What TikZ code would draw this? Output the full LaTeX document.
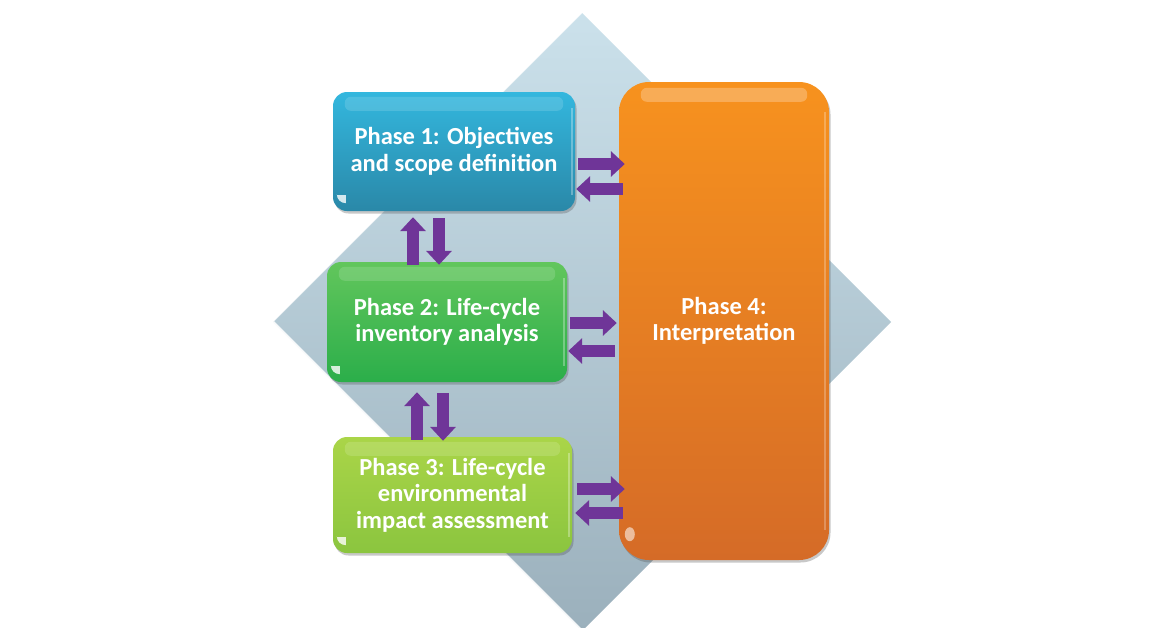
\documentclass[tikz,border=0pt]{standalone}
\usepackage{fontspec}
\setmainfont{Carlito}
\usetikzlibrary{arrows.meta,shadows,calc}
\definecolor{diatop}{HTML}{CBE1EB}
\definecolor{diabot}{HTML}{9BB0BC}
\definecolor{bluetop}{HTML}{33B7DE}
\definecolor{bluebot}{HTML}{2A88A8}
\definecolor{greentop}{HTML}{62C65C}
\definecolor{greenbot}{HTML}{2BAE4A}
\definecolor{limetop}{HTML}{AAD548}
\definecolor{limebot}{HTML}{8BC53F}
\definecolor{orangetop}{HTML}{F7921E}
\definecolor{orangebot}{HTML}{D56B27}
\definecolor{arrowpurple}{HTML}{6F3598}
\tikzset{
  phasebox/.style={rounded corners=14pt, align=center, text=white,
    font=\bfseries\fontsize{24.5}{26.5}\selectfont, inner sep=0pt,
    drop shadow={shadow xshift=1.5pt, shadow yshift=-2.5pt, opacity=0.3, fill=black!70}},
  parrow/.style={draw=arrowpurple, line width=11.5pt,
    -{Triangle[length=14pt,width=25pt]}},
  gloss/.style={fill=white, fill opacity=0.14, rounded corners=6pt},
  glint/.style={fill=white, fill opacity=0.8}
}
\begin{document}
\begin{tikzpicture}[x=1pt,y=-1pt]
\useasboundingbox (0,0) rectangle (1150,627);
\fill[white] (0,0) rectangle (1150,627);
% background diamond
\shade[top color=diatop, bottom color=diabot] (582,13) -- (891,322) -- (582,631) -- (273,322) -- cycle;
\draw[white, line width=2.5pt, opacity=0.9] (273,322) -- (582,631);
\draw[white, line width=1pt, opacity=0.5] (273,322) -- (582,13);
% boxes
\node[phasebox, minimum width=242pt, minimum height=119pt,
  top color=bluetop, bottom color=bluebot] (p1) at (454,151.5)
  {Phase 1: Objectives\\and scope definition};
\node[phasebox, minimum width=240pt, minimum height=120pt,
  top color=greentop, bottom color=greenbot] (p2) at (447,322)
  {Phase 2: Life-cycle\\inventory analysis};
\node[phasebox, minimum width=239pt, minimum height=116pt,
  top color=limetop, bottom color=limebot] (p3) at (452.5,495)
  {Phase 3: Life-cycle\\environmental\\impact assessment};
\node[phasebox, rounded corners=30pt, minimum width=210pt, minimum height=478pt,
  top color=orangetop, bottom color=orangebot] (p4) at (724,321)
  {Phase 4:\\Interpretation};
% gloss highlights
\foreach \b in {p1,p2,p3}{
  \fill[gloss] ($(\b.north west)+(12,5)$) rectangle ($(\b.north east)+(-12,19)$);
  \fill[white, opacity=0.3] ($(\b.north east)+(-4,16)$) rectangle ($(\b.south east)+(-2.5,-16)$);
  \fill[glint] ($(\b.south west)+(4,-16)$) -- ($(\b.south west)+(13,-16)$) -- ($(\b.south west)+(13,-8)$) arc[start angle=-90, end angle=-180, radius=9pt] -- cycle;
}
\fill[gloss, fill opacity=0.25] ($(p4.north west)+(22,6)$) rectangle ($(p4.north east)+(-22,20)$);
\fill[white, opacity=0.25] ($(p4.north east)+(-5,30)$) rectangle ($(p4.south east)+(-3,-30)$);
\fill[glint, fill opacity=0.55] ($(p4.south west)+(11,-26)$) ellipse[x radius=5pt, y radius=7pt];
% arrows between phases 1-3 and phase 4
\draw[parrow] ($(p1.east)+(3,12.5)$) -- ($(p4.west)+(6,-157)$);
\draw[parrow] ($(p4.west)+(4,-132)$) -- ($(p1.east)+(1,37.5)$);
\draw[parrow] ($(p2.east)+(3,1)$) -- ($(p4.west)+(-2,2)$);
\draw[parrow] ($(p4.west)+(-4,30)$) -- ($(p2.east)+(1,29)$);
\draw[parrow] ($(p3.east)+(5,-6)$) -- ($(p4.west)+(6,168)$);
\draw[parrow] ($(p4.west)+(4,192)$) -- ($(p3.east)+(3,18)$);
% vertical arrows
\draw[parrow] ($(p2.north)+(-34,3)$) -- ($(p1.south)+(-41,6)$);
\draw[parrow] ($(p1.south)+(-15,7)$) -- ($(p2.north)+(-8,3)$);
\draw[parrow] ($(p3.north)+(-35.5,3)$) -- ($(p2.south)+(-30,10)$);
\draw[parrow] ($(p2.south)+(-4,11)$) -- ($(p3.north)+(-9.5,4)$);
\end{tikzpicture}
\end{document}
